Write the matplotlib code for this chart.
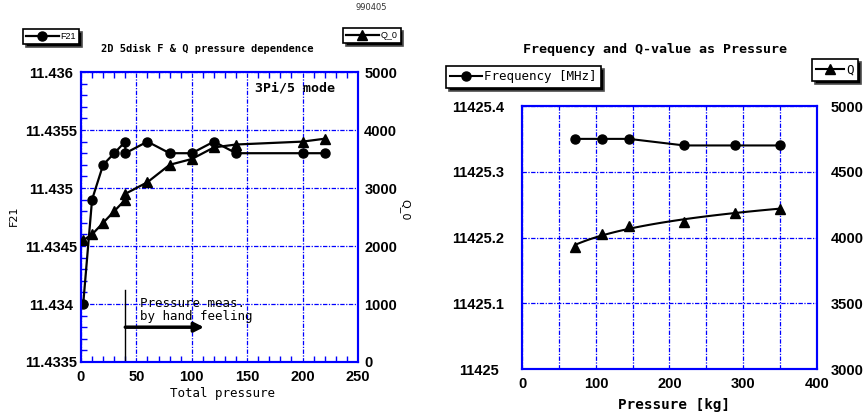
import matplotlib
matplotlib.use("Agg")
import matplotlib.pyplot as plt
import numpy as np

plt.rcParams.update({
    'font.family': ['Liberation Sans', 'DejaVu Sans'],
    'axes.linewidth': 1.5,
    'xtick.direction': 'in',
    'ytick.direction': 'in',
})

BLUE = '#0000ff'
MONO = 'DejaVu Sans Mono'
TICK_FS = 10.5

# 2D 5disk data (3Pi/5 mode)
p_total = [2, 10, 20, 30, 40, 40, 60, 80, 100, 120, 140, 200, 220]
f21 = [11.4340, 11.4349, 11.4352, 11.4353, 11.4354, 11.4353, 11.4354,
       11.4353, 11.4353, 11.4354, 11.4353, 11.4353, 11.4353]
q0 = [2100, 2200, 2400, 2600, 2800, 2900, 3100, 3400, 3500, 3700,
      3750, 3800, 3850]
f21_ticks = [11.4335, 11.434, 11.4345, 11.435, 11.4355, 11.436]
f21_labels = ['11.4335', '11.434', '11.4345', '11.435', '11.4355', '11.436']
q0_ticks = [0, 1000, 2000, 3000, 4000, 5000]

# frequency / Q vs pressure in kg
p_kg = [72, 108, 145, 220, 289, 350]
freq = [11425.35, 11425.35, 11425.35, 11425.34, 11425.34, 11425.34]
q_val = [3925, 4030, 4090, 4120, 4190, 4215]
freq_ticks = [11425, 11425.1, 11425.2, 11425.3, 11425.4]
freq_labels = ['11425', '11425.1', '11425.2', '11425.3', '11425.4']
q_ticks = [3000, 3500, 4000, 4500, 5000]

fig = plt.figure(figsize=(8.68, 4.17), dpi=100)

gridkw = dict(color=BLUE, linestyle=(0, (3.5, 1.2, 1, 1.2)), linewidth=0.9)
shadow = {'facecolor': 'black', 'alpha': 1, 'ox': 2, 'oy': -2}


def style_spines(ax):
    for s in ax.spines.values():
        s.set_color(BLUE)


# ---- left panel ----
ax1 = fig.add_axes([0.0933, 0.1319, 0.3191, 0.6954])
ax1.set_xlim(0, 250)
ax1.set_ylim(11.4335, 11.436)
ax1.set_xticks(np.arange(0, 251, 50))
ax1.set_xticks(np.arange(0, 251, 10), minor=True)
ax1.set_yticks(f21_ticks)
ax1.set_yticklabels(f21_labels)
ax1.set_yticks(np.arange(11.4335, 11.43601, 0.0001), minor=True)
ax1.grid(True, which='major', **gridkw)
ax1.tick_params(which='both', top=True, right=True, color=BLUE)
ax1.tick_params(which='major', length=0)
ax1.tick_params(which='minor', length=4, width=1)
ax1.tick_params(axis='x', labelsize=TICK_FS, pad=5.5)
ax1.tick_params(axis='y', labelsize=TICK_FS, pad=21.5)
for lbl in ax1.get_xticklabels() + ax1.get_yticklabels():
    lbl.set_fontweight('bold')
for lbl in ax1.get_yticklabels():
    lbl.set_horizontalalignment('center')
style_spines(ax1)

l_f21, = ax1.plot(p_total, f21, color='black', lw=1.6, marker='o',
                  ms=6.5, zorder=4)

ax1b = ax1.twinx()
ax1b.set_ylim(0, 5000)
ax1b.set_yticks(q0_ticks)
ax1b.tick_params(axis='y', length=0, labelsize=TICK_FS, pad=4.5)
for lbl in ax1b.get_yticklabels():
    lbl.set_fontweight('bold')
style_spines(ax1b)
l_q0, = ax1b.plot(p_total, q0, color='black', lw=1.6, marker='^',
                  ms=7.5, zorder=4)

# hand-feeling measurement marker
ax1.plot([40, 40], [11.4335, 11.43412], color='black', lw=1)
ax1.annotate('', xy=(111, 11.43380), xytext=(40, 11.43380),
             arrowprops=dict(arrowstyle='-|>', lw=2.5, color='black',
                             mutation_scale=14, shrinkA=0, shrinkB=0))
ax1.text(53, 11.43395, 'Pressure meas.\nby hand feeling', family=MONO,
         fontsize=9, va='center', ha='left', linespacing=0.95)
ax1.text(229, 11.43586, '3Pi/5 mode', family=MONO, fontsize=9.5,
         fontweight='bold', ha='right', va='center')

fig.text(207.7 / 868, 1 - 49.3 / 417, '2D 5disk F & Q pressure dependence',
         family=MONO, fontsize=7.5, fontweight='bold', ha='center',
         va='center')
fig.text(222.5 / 868, 1 - 393.3 / 417, 'Total pressure', family=MONO,
         fontsize=9, ha='center', va='center')
fig.text(14 / 868, 1 - 216 / 417, 'F21', fontsize=8, rotation=90,
         ha='center', va='center', family='DejaVu Sans')
fig.text(405 / 868, 1 - 210 / 417, 'Q_0', fontsize=8, rotation=270,
         ha='center', va='center', family='DejaVu Sans')
fig.text(371 / 868, 1 - 8 / 417, '990405', fontsize=6, color='#333333',
         ha='center', va='center', family='DejaVu Sans')

fig.legend(handles=[l_f21], labels=['F21'], loc='upper left',
           bbox_to_anchor=(23 / 868, 1 - 29 / 417), borderaxespad=0,
           fontsize=6.5, handlelength=3.6, handletextpad=0.2, borderpad=0.35,
           fancybox=False, edgecolor='black', framealpha=1, shadow=shadow,
           numpoints=1).get_frame().set_linewidth(1.2)
fig.legend(handles=[l_q0], labels=['Q_0'], loc='upper left',
           bbox_to_anchor=(343 / 868, 1 - 28 / 417), borderaxespad=0,
           fontsize=6.5, handlelength=3.6, handletextpad=0.2, borderpad=0.35,
           fancybox=False, edgecolor='black', framealpha=1, shadow=shadow,
           numpoints=1).get_frame().set_linewidth(1.2)

# ---- right panel ----
ax2 = fig.add_axes([0.6017, 0.1151, 0.3392, 0.6307])
ax2.set_xlim(0, 400)
ax2.set_ylim(11425, 11425.4)
ax2.set_xticks(np.arange(0, 401, 100))
ax2.set_xticks(np.arange(0, 401, 50), minor=True)
ax2.set_yticks(freq_ticks)
ax2.set_yticklabels(freq_labels)
ax2.grid(True, which='both', **gridkw)
ax2.tick_params(which='both', length=0)
ax2.tick_params(axis='x', labelsize=TICK_FS, pad=6)
ax2.tick_params(axis='y', labelsize=TICK_FS, pad=31.5)
for lbl in ax2.get_xticklabels() + ax2.get_yticklabels():
    lbl.set_fontweight('bold')
for lbl in ax2.get_yticklabels():
    lbl.set_horizontalalignment('center')
style_spines(ax2)

l_freq, = ax2.plot(p_kg, freq, color='black', lw=1.5, marker='o', ms=6.5,
                   zorder=4)

ax2b = ax2.twinx()
ax2b.set_ylim(3000, 5000)
ax2b.set_yticks(q_ticks)
ax2b.tick_params(axis='y', length=0, labelsize=TICK_FS, pad=10)
for lbl in ax2b.get_yticklabels():
    lbl.set_fontweight('bold')
style_spines(ax2b)
ax2b.plot(p_kg, q_val, color='black', lw=0, marker='^', ms=7.5, zorder=4)
# logarithmic trend through the Q points
coef = np.polyfit(np.log(p_kg), q_val, 1)
xs = np.linspace(min(p_kg), max(p_kg), 100)
ax2b.plot(xs, np.polyval(coef, np.log(xs)), color='black', lw=1.5)
h_q, = ax2b.plot([], [], color='black', lw=1.5, marker='^', ms=7.5)

fig.text(655 / 868, 1 - 49 / 417, 'Frequency and Q-value as Pressure',
         family=MONO, fontsize=9.6, fontweight='bold', ha='center',
         va='center')
fig.text(674 / 868, 1 - 405 / 417, 'Pressure [kg]', family=MONO,
         fontsize=10.3, fontweight='bold', ha='center', va='center')

fig.legend(handles=[l_freq], labels=['Frequency [MHz]'], loc='upper left',
           bbox_to_anchor=(446 / 868, 1 - 66 / 417), borderaxespad=0,
           prop={'family': MONO, 'size': 9}, handlelength=2.5,
           handletextpad=0.2, borderpad=0.35, fancybox=False,
           edgecolor='black', framealpha=1, shadow=shadow,
           numpoints=1).get_frame().set_linewidth(1.2)
fig.legend(handles=[h_q], labels=['Q'], loc='upper left',
           bbox_to_anchor=(812 / 868, 1 - 59 / 417), borderaxespad=0,
           prop={'family': MONO, 'size': 9}, handlelength=2.2,
           handletextpad=0.2, borderpad=0.35, fancybox=False,
           edgecolor='black', framealpha=1, shadow=shadow,
           numpoints=1).get_frame().set_linewidth(1.2)

fig.savefig('out.png', dpi=100)
